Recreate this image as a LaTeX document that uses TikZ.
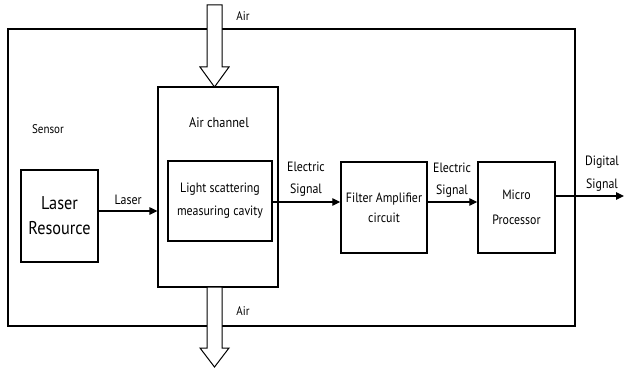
\documentclass[tikz,border=0pt]{standalone}
\usepackage{fontspec}
\setmainfont[FakeStretch=0.88]{PT Sans}
\usetikzlibrary{arrows.meta}
\begin{document}
\begin{tikzpicture}[x=1pt,y=-1pt,
  blk/.style={draw,line width=1.4pt,inner sep=0pt},
  lbl/.style={font=\fontsize{13.5}{15}\selectfont,align=center,inner sep=0pt},
  sig/.style={line width=1.2pt,-{Triangle[length=8pt,width=7.5pt]}},
  bigarrow/.style={draw,line width=1pt,fill=white}]
\useasboundingbox (0,0) rectangle (624,369);
% outer sensor box
\node[draw,line width=1.3pt,minimum width=567pt,minimum height=297pt,inner sep=0pt] (outer) at (291.5,177.5) {};
\node[lbl,font=\fontsize{12.5}{14}\selectfont] (sensor) at (48,129) {Sensor};
% air channel
\node[blk,line width=1.2pt,minimum width=120pt,minimum height=200pt] (chan) at (218,187) {};
\node[lbl,font=\fontsize{14}{16}\selectfont] (chanlbl) at (219,123) {Air channel};
\node[blk,line width=1.5pt,minimum width=104pt,minimum height=80pt,align=center,font=\fontsize{13.5}{23}\selectfont] (cavity) at (220,201) {Light scattering\\measuring cavity};
% laser resource
\node[blk,line width=1.8pt,minimum width=77pt,minimum height=92pt,align=center,font=\fontsize{18.5}{25}\selectfont] (laser) at (59.5,216) {Laser\\Resource};
% filter
\node[blk,line width=1.4pt,minimum width=86pt,minimum height=91pt,align=center,font=\fontsize{13.5}{20}\selectfont] (filter) at (384,207.5) {Filter Amplifier\\circuit};
% micro
\node[blk,line width=1.4pt,minimum width=77pt,minimum height=91pt,align=center,font=\fontsize{13.5}{25}\selectfont] (micro) at (516.5,207.5) {Micro\\Processor};
% coordinates
\coordinate (out) at (624,196);
% connectors
\draw[sig] (laser.east |- 0,211) -- (chan.west |- 0,211) node[lbl,midway,above=6pt] (laserlbl) {Laser};
\draw[sig] (cavity.east |- 0,202) -- (filter.west |- 0,202);
\node[lbl,font=\fontsize{13.5}{22}\selectfont] (es1) at (306,179) {Electric\\Signal};
\draw[sig] (filter.east |- 0,202) -- (micro.west |- 0,202);
\node[lbl,font=\fontsize{13.5}{22}\selectfont] (es2) at (452,180) {Electric\\Signal};
\draw[sig] (micro.east |- 0,196) -- (out);
\node[lbl,font=\fontsize{13.5}{23}\selectfont] (ds) at (602,174) {Digital\\Signal};
% big air arrows
\draw[bigarrow] (207,5) -- (222,5) -- (222,67) -- (229,67) -- (214.5,87) -- (200,67) -- (207,67) -- cycle;
\draw[bigarrow] (207,287) -- (222,287) -- (222,348) -- (229,348) -- (214.5,367) -- (200,348) -- (207,348) -- cycle;
\node[lbl,font=\fontsize{12.5}{14}\selectfont] (airtop) at (243,16) {Air};
\node[lbl,font=\fontsize{12.5}{14}\selectfont] (airbot) at (243,311) {Air};
\end{tikzpicture}
\end{document}
